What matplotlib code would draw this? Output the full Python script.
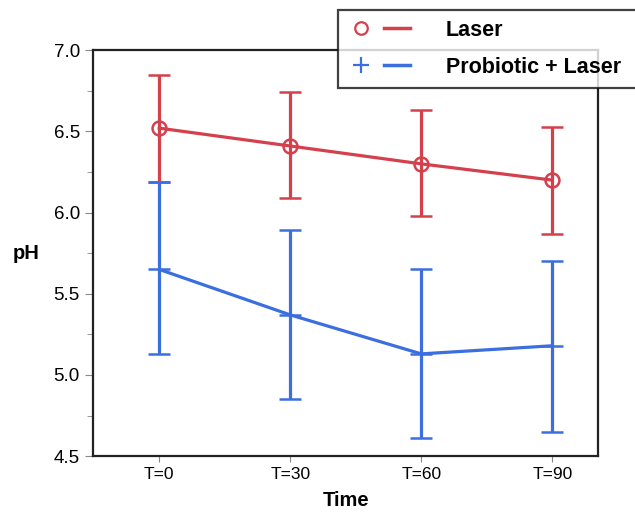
import numpy as np
from matplotlib import pyplot as plt
from matplotlib.lines import Line2D
from matplotlib.legend_handler import HandlerTuple
from matplotlib.ticker import MultipleLocator

# data
times = ['T=0', 'T=30', 'T=60', 'T=90']
laser_mean = [6.52, 6.41, 6.30, 6.20]
laser_hi = [6.85, 6.74, 6.63, 6.53]
laser_lo = [6.19, 6.09, 5.98, 5.87]
pro_mean = [5.65, 5.37, 5.13, 5.18]
pro_hi = [6.19, 5.89, 5.65, 5.70]
pro_lo = [5.13, 4.85, 4.61, 4.65]

red = '#d4404c'
blue = '#3b6fe0'

plt.rcParams['font.family'] = ['Liberation Sans', 'DejaVu Sans']

fig = plt.figure(figsize=(6.35, 5.12), dpi=100)
ax = fig.add_axes([0.1465, 0.109, 0.7955, 0.793])

x = np.arange(len(times))

def draw(mean, lo, hi, color, marker, ms, mfc):
    mean = np.array(mean)
    err = [mean - np.array(lo), np.array(hi) - mean]
    ax.errorbar(x, mean, yerr=err, color=color, lw=2.3, elinewidth=2.3,
                capsize=8, capthick=2.3, marker=marker, ms=ms, mfc=mfc,
                mec=color, mew=1.8, zorder=3)

draw(laser_mean, laser_lo, laser_hi, red, 'o', 10, 'none')
draw(pro_mean, pro_lo, pro_hi, blue, '_', 16, blue)

ax.set_xlim(-0.505, 3.35)
ax.set_ylim(4.5, 7.0)
ax.set_xticks(x)
ax.set_xticklabels(times, fontsize=12.5)
ax.yaxis.set_major_locator(MultipleLocator(0.5))
ax.yaxis.set_minor_locator(MultipleLocator(0.25))
ax.yaxis.set_major_formatter(plt.FormatStrFormatter('%.1f'))
ax.tick_params(axis='y', labelsize=13.5, length=6, color='#888888')
ax.tick_params(axis='y', which='minor', length=4, color='#888888')
ax.tick_params(axis='x', length=4, color='#888888', pad=4)
for s in ax.spines.values():
    s.set_linewidth(1.6)
    s.set_color('#222222')

ax.set_xlabel('Time', fontsize=14.5, fontweight='bold', labelpad=6)
ax.set_ylabel('pH', fontsize=14.5, fontweight='bold', rotation=0, labelpad=20, va='center')

h1 = (Line2D([], [], color=red, marker='o', ls='none', ms=9, mfc='none', mew=1.6),
      Line2D([], [], color=red, lw=2.5))
h2 = (Line2D([], [], color=blue, marker='+', ls='none', ms=11, mew=1.6),
      Line2D([], [], color=blue, lw=2.5))
# legend box runs off the right edge of the figure, as in the original
leg = fig.legend([h1, h2], ['Laser', 'Probiotic + Laser'],
                 handler_map={tuple: HandlerTuple(ndivide=None, pad=0.5)},
                 loc='upper left', mode='expand',
                 bbox_to_anchor=(338 / 635, 1 - 10 / 512, 0.5, 0.0),
                 prop={'size': 15.5, 'weight': 'bold'}, frameon=True, fancybox=False,
                 handlelength=2.9, handletextpad=1.65, borderpad=0.45,
                 labelspacing=0.75, borderaxespad=0)
leg.get_frame().set_edgecolor('#111111')
leg.get_frame().set_linewidth(1.6)

fig.savefig('out.png', dpi=100)
